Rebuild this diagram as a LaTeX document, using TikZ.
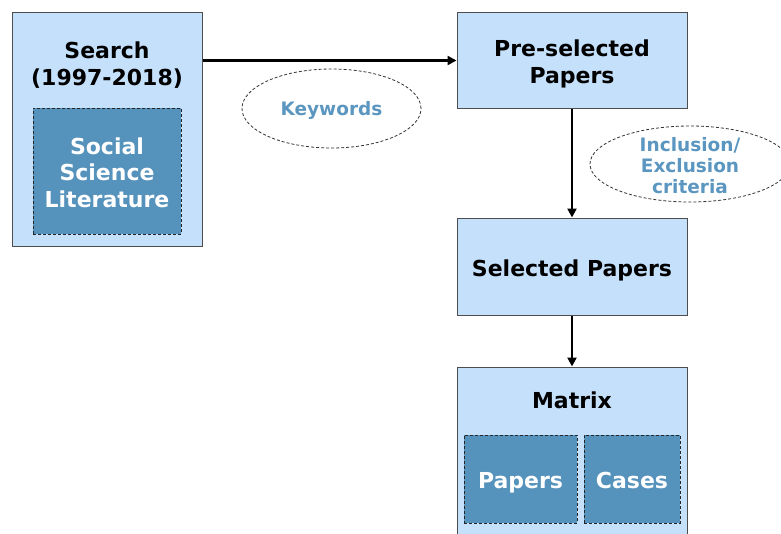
\documentclass[tikz,border=0pt]{standalone}
\usepackage{fontspec}
\setmainfont{DejaVu Sans}
\usetikzlibrary{arrows.meta,shapes.geometric}
\definecolor{boxfill}{HTML}{C5E0FA}
\definecolor{innerfill}{HTML}{5592BC}
\definecolor{ovaltext}{HTML}{5A96C0}
\definecolor{boxline}{HTML}{4D4D4D}
\tikzset{
  outerbox/.style={draw=boxline, fill=boxfill, line width=1pt, inner sep=0pt, rectangle},
  bigtext/.style={font=\bfseries\fontsize{22}{27}\selectfont, align=center, inner sep=0pt},
  innerbox/.style={draw=black!85, fill=innerfill, line width=0.8pt, dash pattern=on 3pt off 2pt, inner sep=0pt, rectangle, text=white, font=\bfseries\fontsize{22}{26.5}\selectfont, align=center},
  cellbox/.style={innerbox, text height=18pt, text depth=0pt},
  oval/.style={ellipse, draw=black!80, line width=0.8pt, dash pattern=on 3pt off 2pt, inner sep=0pt, text=ovaltext, font=\bfseries\fontsize{18.5}{21}\selectfont, align=center},
  arr/.style={line width=2.5pt, -{Triangle[length=9pt,width=9pt]}}
}
\begin{document}
\begin{tikzpicture}[x=1pt,y=-1pt]
\useasboundingbox (0,0) rectangle (781,533);
\clip (0,0) rectangle (781,533);
% Search box
\node[outerbox, minimum width=190pt, minimum height=234pt] (search) at (107,129.5) {};
\node[bigtext] (searchlbl) at (107,65.5) {Search\\(1997-2018)};
\node[innerbox, minimum width=148pt, minimum height=126pt] (ssl) at (107,171) {};
\node[bigtext, text=white, font=\bfseries\fontsize{22}{26.5}\selectfont] (ssllbl) at (107,172.5) {Social\\Science\\Literature};
% Pre-selected
\node[outerbox, minimum width=230pt, minimum height=96pt] (pre) at (572,60.5) {};
\node[bigtext] (prelbl) at (572,63.5) {Pre-selected\\Papers};
% Selected
\node[outerbox, minimum width=230pt, minimum height=97pt] (sel) at (572,266.5) {};
\node[bigtext] (sellbl) at (572,270.5) {Selected Papers};
% Matrix
\node[outerbox, minimum width=230pt, minimum height=200pt] (matrix) at (572,467) {};
\node[bigtext] (matrixlbl) at (572,400) {Matrix};
\node[cellbox, minimum width=113pt, minimum height=88pt] (papers) at (520.5,479) {Papers};
\node[cellbox, minimum width=96pt, minimum height=88pt] (cases) at (632,479) {Cases};
% Ovals
\node[oval, text height=14pt, text depth=0pt, minimum width=179pt, minimum height=79pt] (kw) at (331.5,108.5) {Keywords};
\node[oval, minimum width=200pt, minimum height=76pt] (incl) at (690,164) {};
\node[bigtext, text=ovaltext, font=\bfseries\fontsize{18.5}{21}\selectfont] (incllbl) at (690,165.5) {Inclusion/\\Exclusion\\criteria};
% Arrows
\draw[arr] (search.east |- pre.west) -- (pre.west);
\draw[arr] (pre.south) -- (sel.north);
\draw[arr] (sel.south) -- (matrix.north);
\end{tikzpicture}
\end{document}
